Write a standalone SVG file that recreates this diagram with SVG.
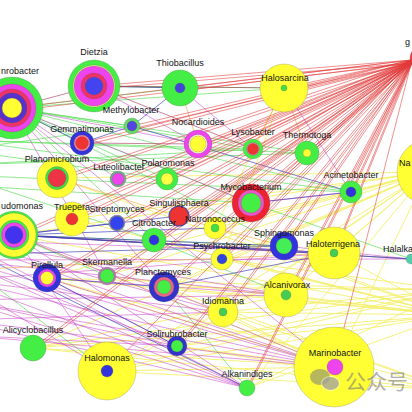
<svg xmlns="http://www.w3.org/2000/svg" width="412" height="412" viewBox="0 0 412 412">
<style>
text{font-family:"Liberation Sans",Arial,sans-serif;font-size:9px;fill:#111;text-anchor:middle}
line{stroke-width:0.8;fill:none}
.r line{stroke:#e23a3a;stroke-opacity:.75;stroke-width:.75}
.y line{stroke:#f4ef6e;stroke-opacity:.9;stroke-width:1}
.m line{stroke:#c83ec8;stroke-opacity:.7;stroke-width:.75}
.g line{stroke:#50dd50;stroke-opacity:.8}
.b line{stroke:#3434b4;stroke-opacity:.8}
.o line{stroke:#f2b458;stroke-opacity:.9}
.p line{stroke:#a8305a;stroke-opacity:.75}
circle{stroke:#555;stroke-width:.4;stroke-opacity:.6}
.wm{fill:#7a7a7a;fill-opacity:.55;stroke:none}
</style>
<rect width="412" height="412" fill="#fff"/>
<g id="connectors">
<g class="y">
<line x1="428" y1="172" x2="334" y2="253"/><line x1="428" y1="172" x2="286" y2="295"/><line x1="428" y1="172" x2="223" y2="312"/><line x1="428" y1="172" x2="222" y2="259"/><line x1="428" y1="172" x2="215" y2="228"/><line x1="428" y1="172" x2="107" y2="371"/><line x1="428" y1="172" x2="334" y2="367"/><line x1="428" y1="172" x2="247" y2="388"/><line x1="428" y1="172" x2="177" y2="346"/><line x1="428" y1="172" x2="164" y2="287"/><line x1="428" y1="172" x2="72" y2="219"/><line x1="428" y1="172" x2="57" y2="178"/><line x1="428" y1="172" x2="47" y2="278"/><line x1="428" y1="172" x2="33" y2="348"/><line x1="428" y1="172" x2="107" y2="276"/><line x1="428" y1="172" x2="14" y2="235"/><line x1="428" y1="172" x2="154" y2="240"/>
<line x1="450" y1="315" x2="107" y2="371"/><line x1="450" y1="315" x2="33" y2="348"/><line x1="450" y1="315" x2="177" y2="346"/><line x1="450" y1="315" x2="247" y2="388"/><line x1="450" y1="315" x2="223" y2="312"/><line x1="450" y1="315" x2="164" y2="287"/><line x1="450" y1="315" x2="47" y2="278"/><line x1="450" y1="315" x2="107" y2="276"/><line x1="450" y1="315" x2="222" y2="259"/><line x1="450" y1="315" x2="215" y2="228"/><line x1="450" y1="315" x2="72" y2="219"/><line x1="450" y1="315" x2="14" y2="235"/><line x1="450" y1="315" x2="286" y2="295"/><line x1="450" y1="315" x2="334" y2="253"/><line x1="450" y1="315" x2="154" y2="240"/><line x1="450" y1="315" x2="57" y2="178"/>
<line x1="450" y1="290" x2="107" y2="371"/><line x1="450" y1="290" x2="33" y2="348"/><line x1="450" y1="290" x2="177" y2="346"/><line x1="450" y1="290" x2="247" y2="388"/><line x1="450" y1="290" x2="223" y2="312"/><line x1="450" y1="290" x2="164" y2="287"/><line x1="450" y1="290" x2="47" y2="278"/><line x1="450" y1="290" x2="222" y2="259"/>
<line x1="450" y1="390" x2="107" y2="371"/><line x1="450" y1="390" x2="33" y2="348"/><line x1="450" y1="390" x2="177" y2="346"/><line x1="450" y1="390" x2="223" y2="312"/><line x1="450" y1="390" x2="164" y2="287"/><line x1="450" y1="390" x2="47" y2="278"/>
<line x1="334" y1="367" x2="107" y2="371"/><line x1="334" y1="367" x2="33" y2="348"/><line x1="334" y1="367" x2="177" y2="346"/><line x1="334" y1="367" x2="223" y2="312"/><line x1="334" y1="367" x2="164" y2="287"/><line x1="334" y1="367" x2="47" y2="278"/><line x1="334" y1="367" x2="14" y2="235"/>
<line x1="284" y1="88" x2="215" y2="228"/><line x1="284" y1="88" x2="222" y2="259"/><line x1="334" y1="253" x2="107" y2="371"/><line x1="286" y1="295" x2="33" y2="348"/>
</g>
<g class="g">
<line x1="12" y1="108" x2="180" y2="88"/><line x1="12" y1="108" x2="284" y2="88"/><line x1="12" y1="108" x2="132" y2="126"/><line x1="12" y1="108" x2="253" y2="149"/><line x1="12" y1="108" x2="307" y2="153"/><line x1="12" y1="108" x2="167" y2="179"/><line x1="12" y1="108" x2="351" y2="192"/><line x1="12" y1="108" x2="154" y2="240"/><line x1="12" y1="108" x2="251" y2="203"/><line x1="12" y1="108" x2="284" y2="246"/>
<line x1="94" y1="86" x2="284" y2="88"/><line x1="94" y1="86" x2="180" y2="88"/>
<line x1="-40" y1="140" x2="253" y2="149"/><line x1="-40" y1="140" x2="307" y2="153"/><line x1="-40" y1="140" x2="351" y2="192"/><line x1="-40" y1="150" x2="167" y2="179"/><line x1="-40" y1="150" x2="132" y2="126"/><line x1="-40" y1="165" x2="253" y2="149"/><line x1="-40" y1="165" x2="307" y2="153"/><line x1="-40" y1="175" x2="351" y2="192"/><line x1="-40" y1="175" x2="154" y2="240"/><line x1="-40" y1="185" x2="251" y2="203"/>
<line x1="14" y1="235" x2="411" y2="259"/><line x1="14" y1="235" x2="284" y2="246"/><line x1="14" y1="235" x2="107" y2="276"/>
<line x1="164" y1="287" x2="247" y2="388"/><line x1="0" y1="290" x2="107" y2="371"/><line x1="251" y1="203" x2="411" y2="259"/><line x1="154" y1="240" x2="286" y2="295"/>
</g>
<g class="m">
<line x1="-40" y1="240" x2="334" y2="367"/><line x1="-40" y1="240" x2="247" y2="388"/><line x1="-40" y1="240" x2="286" y2="295"/><line x1="-40" y1="240" x2="334" y2="253"/><line x1="-40" y1="240" x2="223" y2="312"/>
<line x1="-40" y1="260" x2="334" y2="367"/><line x1="-40" y1="260" x2="247" y2="388"/><line x1="-40" y1="260" x2="177" y2="346"/><line x1="-40" y1="260" x2="286" y2="295"/><line x1="-40" y1="260" x2="411" y2="259"/>
<line x1="-40" y1="280" x2="334" y2="367"/><line x1="-40" y1="280" x2="247" y2="388"/><line x1="-40" y1="280" x2="223" y2="312"/><line x1="-40" y1="280" x2="107" y2="371"/><line x1="-40" y1="280" x2="334" y2="253"/>
<line x1="-40" y1="300" x2="334" y2="367"/><line x1="-40" y1="300" x2="247" y2="388"/><line x1="-40" y1="300" x2="177" y2="346"/><line x1="-40" y1="300" x2="286" y2="295"/>
<line x1="-40" y1="320" x2="334" y2="367"/><line x1="-40" y1="320" x2="247" y2="388"/><line x1="-40" y1="320" x2="223" y2="312"/><line x1="-40" y1="335" x2="334" y2="367"/><line x1="-40" y1="335" x2="177" y2="346"/>
<line x1="14" y1="235" x2="334" y2="367"/><line x1="14" y1="235" x2="247" y2="388"/><line x1="14" y1="235" x2="107" y2="371"/><line x1="14" y1="235" x2="223" y2="312"/><line x1="14" y1="235" x2="411" y2="259"/><line x1="14" y1="235" x2="334" y2="253"/>
<line x1="47" y1="278" x2="334" y2="367"/><line x1="47" y1="278" x2="177" y2="346"/><line x1="47" y1="278" x2="286" y2="295"/>
<line x1="12" y1="108" x2="118" y2="179"/><line x1="12" y1="108" x2="198" y2="144"/><line x1="12" y1="108" x2="251" y2="203"/><line x1="12" y1="108" x2="107" y2="276"/><line x1="12" y1="108" x2="164" y2="287"/><line x1="12" y1="108" x2="334" y2="367"/>
<line x1="94" y1="86" x2="198" y2="144"/><line x1="180" y1="88" x2="253" y2="149"/><line x1="284" y1="88" x2="351" y2="192"/><line x1="284" y1="246" x2="411" y2="259"/><line x1="351" y1="192" x2="251" y2="203"/>
</g>
<g class="b">
<line x1="14" y1="235" x2="284" y2="246"/><line x1="14" y1="235" x2="334" y2="253"/><line x1="14" y1="235" x2="411" y2="259"/><line x1="14" y1="235" x2="179" y2="216"/><line x1="14" y1="235" x2="215" y2="228"/><line x1="14" y1="235" x2="117" y2="223"/>
<line x1="82" y1="143" x2="132" y2="126"/><line x1="94" y1="86" x2="180" y2="88"/><line x1="12" y1="108" x2="82" y2="143"/><line x1="132" y1="126" x2="180" y2="88"/><line x1="132" y1="126" x2="351" y2="192"/>
<line x1="47" y1="278" x2="164" y2="287"/><line x1="47" y1="278" x2="177" y2="346"/><line x1="-40" y1="245" x2="247" y2="388"/><line x1="-40" y1="255" x2="284" y2="246"/><line x1="164" y1="287" x2="334" y2="253"/><line x1="251" y1="203" x2="351" y2="192"/>
</g>
<g class="o">
<line x1="180" y1="88" x2="198" y2="144"/><line x1="284" y1="88" x2="307" y2="153"/><line x1="284" y1="88" x2="253" y2="149"/><line x1="215" y1="228" x2="284" y2="246"/><line x1="-40" y1="270" x2="334" y2="253"/><line x1="57" y1="178" x2="215" y2="228"/>
</g>
<g class="p">
<line x1="94" y1="86" x2="284" y2="88"/><line x1="94" y1="86" x2="253" y2="149"/><line x1="12" y1="108" x2="94" y2="86"/><line x1="82" y1="143" x2="198" y2="144"/>
</g>
<g class="r">
<line x1="412" y1="60" x2="94" y2="86"/><line x1="412" y1="63" x2="94" y2="89"/>
<line x1="412" y1="60" x2="180" y2="88"/><line x1="412" y1="63" x2="180" y2="91"/>
<line x1="412" y1="60" x2="284" y2="88"/><line x1="412" y1="63" x2="284" y2="91"/>
<line x1="412" y1="60" x2="132" y2="126"/><line x1="412" y1="63" x2="132" y2="129"/>
<line x1="412" y1="60" x2="82" y2="143"/><line x1="412" y1="63" x2="82" y2="146"/>
<line x1="412" y1="60" x2="198" y2="144"/><line x1="412" y1="63" x2="198" y2="147"/>
<line x1="412" y1="60" x2="253" y2="149"/><line x1="412" y1="63" x2="253" y2="152"/>
<line x1="412" y1="60" x2="307" y2="153"/><line x1="412" y1="63" x2="307" y2="156"/>
<line x1="412" y1="60" x2="57" y2="178"/><line x1="412" y1="63" x2="57" y2="181"/>
<line x1="412" y1="60" x2="118" y2="179"/><line x1="412" y1="63" x2="118" y2="182"/>
<line x1="412" y1="60" x2="167" y2="179"/><line x1="412" y1="63" x2="167" y2="182"/>
<line x1="412" y1="60" x2="251" y2="203"/><line x1="412" y1="63" x2="251" y2="206"/>
<line x1="412" y1="60" x2="351" y2="192"/><line x1="412" y1="63" x2="351" y2="195"/>
<line x1="412" y1="60" x2="72" y2="219"/><line x1="412" y1="63" x2="72" y2="222"/>
<line x1="412" y1="60" x2="117" y2="223"/><line x1="412" y1="63" x2="117" y2="226"/>
<line x1="412" y1="60" x2="179" y2="216"/><line x1="412" y1="63" x2="179" y2="219"/>
<line x1="412" y1="60" x2="154" y2="240"/><line x1="412" y1="63" x2="154" y2="243"/>
<line x1="412" y1="60" x2="215" y2="228"/><line x1="412" y1="63" x2="215" y2="231"/>
<line x1="412" y1="60" x2="284" y2="246"/><line x1="412" y1="63" x2="284" y2="249"/>
<line x1="412" y1="60" x2="222" y2="259"/><line x1="412" y1="63" x2="222" y2="262"/>
<line x1="412" y1="60" x2="334" y2="253"/><line x1="412" y1="63" x2="334" y2="256"/>
<line x1="412" y1="60" x2="47" y2="278"/><line x1="412" y1="63" x2="47" y2="281"/>
<line x1="412" y1="60" x2="107" y2="276"/><line x1="412" y1="63" x2="107" y2="279"/>
<line x1="412" y1="60" x2="164" y2="287"/><line x1="412" y1="63" x2="164" y2="290"/>
<line x1="412" y1="60" x2="286" y2="295"/><line x1="412" y1="63" x2="286" y2="298"/>
<line x1="412" y1="60" x2="223" y2="312"/><line x1="412" y1="63" x2="223" y2="315"/>
<line x1="412" y1="60" x2="33" y2="348"/><line x1="412" y1="63" x2="33" y2="351"/>
<line x1="412" y1="60" x2="177" y2="346"/><line x1="412" y1="63" x2="177" y2="349"/>
<line x1="412" y1="60" x2="247" y2="388"/><line x1="412" y1="63" x2="247" y2="391"/>
<line x1="412" y1="60" x2="14" y2="235"/><line x1="412" y1="63" x2="14" y2="238"/>
<line x1="412" y1="60" x2="12" y2="108"/><line x1="412" y1="63" x2="12" y2="111"/>
<line x1="412" y1="60" x2="334" y2="367"/><line x1="412" y1="60" x2="107" y2="371"/>
</g>
</g>
<g id="hub"><circle cx="422" cy="58" r="12" fill="#f03a3a" stroke="none"/><text x="405" y="45" style="text-anchor:start">g</text></g>
<g id="n-nrobacter"><circle cx="12" cy="108" r="31" fill="#44ee44"/><circle cx="12" cy="108" r="24" fill="#ee44ee"/><circle cx="12" cy="108" r="19" fill="#ee3366"/><circle cx="12" cy="108" r="15" fill="#5533cc"/><circle cx="12" cy="108" r="10" fill="#ffff33"/><text x="1" y="74" style="text-anchor:start">nrobacter</text></g>
<g id="n-dietzia"><circle cx="94" cy="86" r="26" fill="#44ee44"/><circle cx="94" cy="86" r="21" fill="#ffff88"/><circle cx="94" cy="86" r="20" fill="#ee44ee"/><circle cx="94" cy="86" r="13" fill="#ee3366"/><circle cx="94" cy="86" r="9" fill="#4444ee"/><text x="94" y="55">Dietzia</text></g>
<g id="n-thiobacillus"><circle cx="180" cy="88" r="18" fill="#44ee44"/><circle cx="180" cy="88" r="5" fill="#4444dd" stroke="#333" stroke-width=".8"/><text x="180" y="66">Thiobacillus</text></g>
<g id="n-halosarcina"><circle cx="284" cy="88" r="24" fill="#ffff33" stroke="none"/><circle cx="284" cy="88" r="3" fill="#44dd44"/><text x="285" y="81">Halosarcina</text></g>
<g id="n-methylobacter"><circle cx="132" cy="126" r="8" fill="#66dd66" stroke="#777"/><circle cx="132" cy="126" r="5" fill="#5544dd"/><text x="131" y="113">Methylobacter</text></g>
<g id="n-gemmatimonas"><circle cx="82" cy="143" r="12" fill="#3333dd"/><circle cx="82" cy="143" r="8" fill="#ff88aa"/><circle cx="82" cy="143" r="6.5" fill="#ee3333"/><text x="82" y="132">Gemmatimonas</text></g>
<g id="n-nocardioides"><circle cx="198" cy="144" r="14" fill="#ee44ee"/><circle cx="198" cy="144" r="9.5" fill="#ffffcc"/><circle cx="198" cy="144" r="8" fill="#ffff33"/><text x="198" y="125">Nocardioides</text></g>
<g id="n-lysobacter"><circle cx="253" cy="149" r="10" fill="#44ee44"/><circle cx="253" cy="149" r="6.5" fill="#ee88aa"/><circle cx="253" cy="149" r="5.5" fill="#ee3333"/><text x="253" y="135">Lysobacter</text></g>
<g id="n-thermotoga"><circle cx="307" cy="153" r="12" fill="#44ee44"/><circle cx="307" cy="153" r="4" fill="#ffff33"/><text x="307" y="138">Thermotoga</text></g>
<g id="n-na"><circle cx="430" cy="172" r="33" fill="#ffff33" stroke="none"/><text x="399" y="166" style="text-anchor:start">Na</text></g>
<g id="n-planomicrobium"><circle cx="57" cy="178" r="20" fill="#ffff33" stroke="none"/><circle cx="57" cy="178" r="11.5" fill="#44dd44"/><circle cx="57" cy="178" r="9" fill="#ee3344"/><text x="57" y="162">Planomicrobium</text></g>
<g id="n-luteolibacter"><circle cx="118" cy="179" r="8" fill="#77aa88" stroke="#446"/><circle cx="118" cy="179" r="6" fill="#ee44ee"/><text x="119" y="170">Luteolibacter</text></g>
<g id="n-polaromonas"><circle cx="167" cy="179" r="11" fill="#44ee44"/><circle cx="167" cy="179" r="6" fill="#ffff44"/><text x="168" y="166">Polaromonas</text></g>
<g id="n-mycobacterium"><circle cx="251" cy="203" r="19" fill="#ee2233"/><circle cx="251" cy="203" r="13" fill="#ee55cc"/><circle cx="251" cy="203" r="10" fill="#44ee44"/><text x="251" y="190">Mycobacterium</text></g>
<g id="n-acinetobacter"><circle cx="351" cy="192" r="11" fill="#44ee44"/><circle cx="351" cy="192" r="5" fill="#3333dd"/><text x="351" y="178">Acinetobacter</text></g>
<g id="n-udomonas"><circle cx="14" cy="235" r="24" fill="#44ee44"/><circle cx="14" cy="235" r="22" fill="#ffff33"/><circle cx="14" cy="235" r="15" fill="#44ee44"/><circle cx="14" cy="235" r="12.5" fill="#ee44ee"/><circle cx="14" cy="235" r="9" fill="#4433ee"/><text x="43" y="209" style="text-anchor:end">udomonas</text></g>
<g id="n-truepera"><circle cx="72" cy="219" r="17" fill="#ffff33" stroke="none"/><circle cx="72" cy="219" r="6" fill="#ee3333" stroke="#888"/><text x="72" y="210">Truepera</text></g>
<g id="n-streptomyces"><circle cx="117" cy="223" r="8" fill="#8888aa"/><circle cx="117" cy="223" r="6.8" fill="#3344ee"/><text x="117" y="212">Streptomyces</text></g>
<g id="n-singulisphaera"><circle cx="179" cy="216" r="10.5" fill="#4444bb"/><circle cx="179" cy="216" r="9.5" fill="#ee3333"/><text x="179" y="206">Singulisphaera</text></g>
<g id="n-citrobacter"><circle cx="154" cy="240" r="12" fill="#44ee44"/><circle cx="154" cy="240" r="5" fill="#3333dd"/><text x="154" y="226">Citrobacter</text></g>
<g id="n-natronococcus"><circle cx="215" cy="228" r="11" fill="#ffff33" stroke="none"/><circle cx="215" cy="228" r="4" fill="#44dd44"/><text x="215" y="222">Natronococcus</text></g>
<g id="n-sphingomonas"><circle cx="284" cy="246" r="14" fill="#3333dd"/><circle cx="284" cy="246" r="8" fill="#44ee55"/><text x="284" y="236">Sphingomonas</text></g>
<g id="n-psychrobacter"><circle cx="222" cy="259" r="11" fill="#ffff33" stroke="none"/><circle cx="222" cy="259" r="5" fill="#3344dd"/><text x="222" y="249">Psychrobacter</text></g>
<g id="n-haloterrigena"><circle cx="334" cy="253" r="26" fill="#ffff33" stroke="none"/><circle cx="334" cy="253" r="4" fill="#44cc55"/><text x="333" y="247">Haloterrigena</text></g>
<g id="n-halalka"><circle cx="411" cy="259" r="5" fill="#55ccaa"/><text x="383" y="252" style="text-anchor:start">Halalka</text></g>
<g id="n-pirellula"><circle cx="47" cy="278" r="14" fill="#3333dd"/><circle cx="47" cy="278" r="9" fill="#ee44ee"/><circle cx="47" cy="278" r="6.5" fill="#ffff33"/><text x="47" y="268">Pirellula</text></g>
<g id="n-skermanella"><circle cx="107" cy="276" r="9" fill="#bb77bb"/><circle cx="107" cy="276" r="7" fill="#44ee44"/><text x="107" y="265">Skermanella</text></g>
<g id="n-planctomyces"><circle cx="164" cy="287" r="15" fill="#3333cc"/><circle cx="164" cy="287" r="10" fill="#ee6688"/><circle cx="164" cy="287" r="7" fill="#44ee44"/><text x="163" y="275">Planctomyces</text></g>
<g id="n-alcanivorax"><circle cx="286" cy="295" r="22" fill="#ffff33" stroke="none"/><circle cx="286" cy="295" r="5" fill="#44cc55"/><text x="287" y="288">Alcanivorax</text></g>
<g id="n-idiomarina"><circle cx="223" cy="312" r="15" fill="#ffff33" stroke="none"/><circle cx="223" cy="312" r="4" fill="#44cc55"/><text x="223" y="304">Idiomarina</text></g>
<g id="n-alicyclobacillus"><circle cx="33" cy="348" r="13" fill="#44ee44"/><text x="33" y="333">Alicyclobacillus</text></g>
<g id="n-solirubrobacter"><circle cx="177" cy="346" r="10" fill="#3333cc"/><circle cx="177" cy="346" r="6" fill="#44ee44"/><text x="177" y="337">Solirubrobacter</text></g>
<g id="n-halomonas"><circle cx="107" cy="371" r="29" fill="#ffff33" stroke="none"/><circle cx="107" cy="371" r="6" fill="#3333dd"/><text x="107" y="361">Halomonas</text></g>
<g id="n-alkanindiges"><circle cx="247" cy="388" r="8" fill="#44ee44"/><text x="247" y="377">Alkanindiges</text></g>
<g id="n-marinobacter"><circle cx="334" cy="367" r="40" fill="#ffff33" stroke="none"/><circle cx="335" cy="367" r="8" fill="#ee44ee"/><text x="335" y="356">Marinobacter</text></g>
<g id="watermark">
<ellipse class="wm" cx="320" cy="377" rx="10" ry="8"/>
<ellipse cx="330.5" cy="383.5" rx="9.5" ry="7.5" fill="#fff" fill-opacity=".5" stroke="none"/>
<ellipse class="wm" cx="330.5" cy="383.5" rx="8.5" ry="6.5"/>
<text x="345" y="389" style="text-anchor:start;font-family:'Noto Sans CJK SC','Liberation Sans',sans-serif;font-size:21px;fill:#7a7a7a;fill-opacity:.6">公众号</text>
</g>
</svg>
